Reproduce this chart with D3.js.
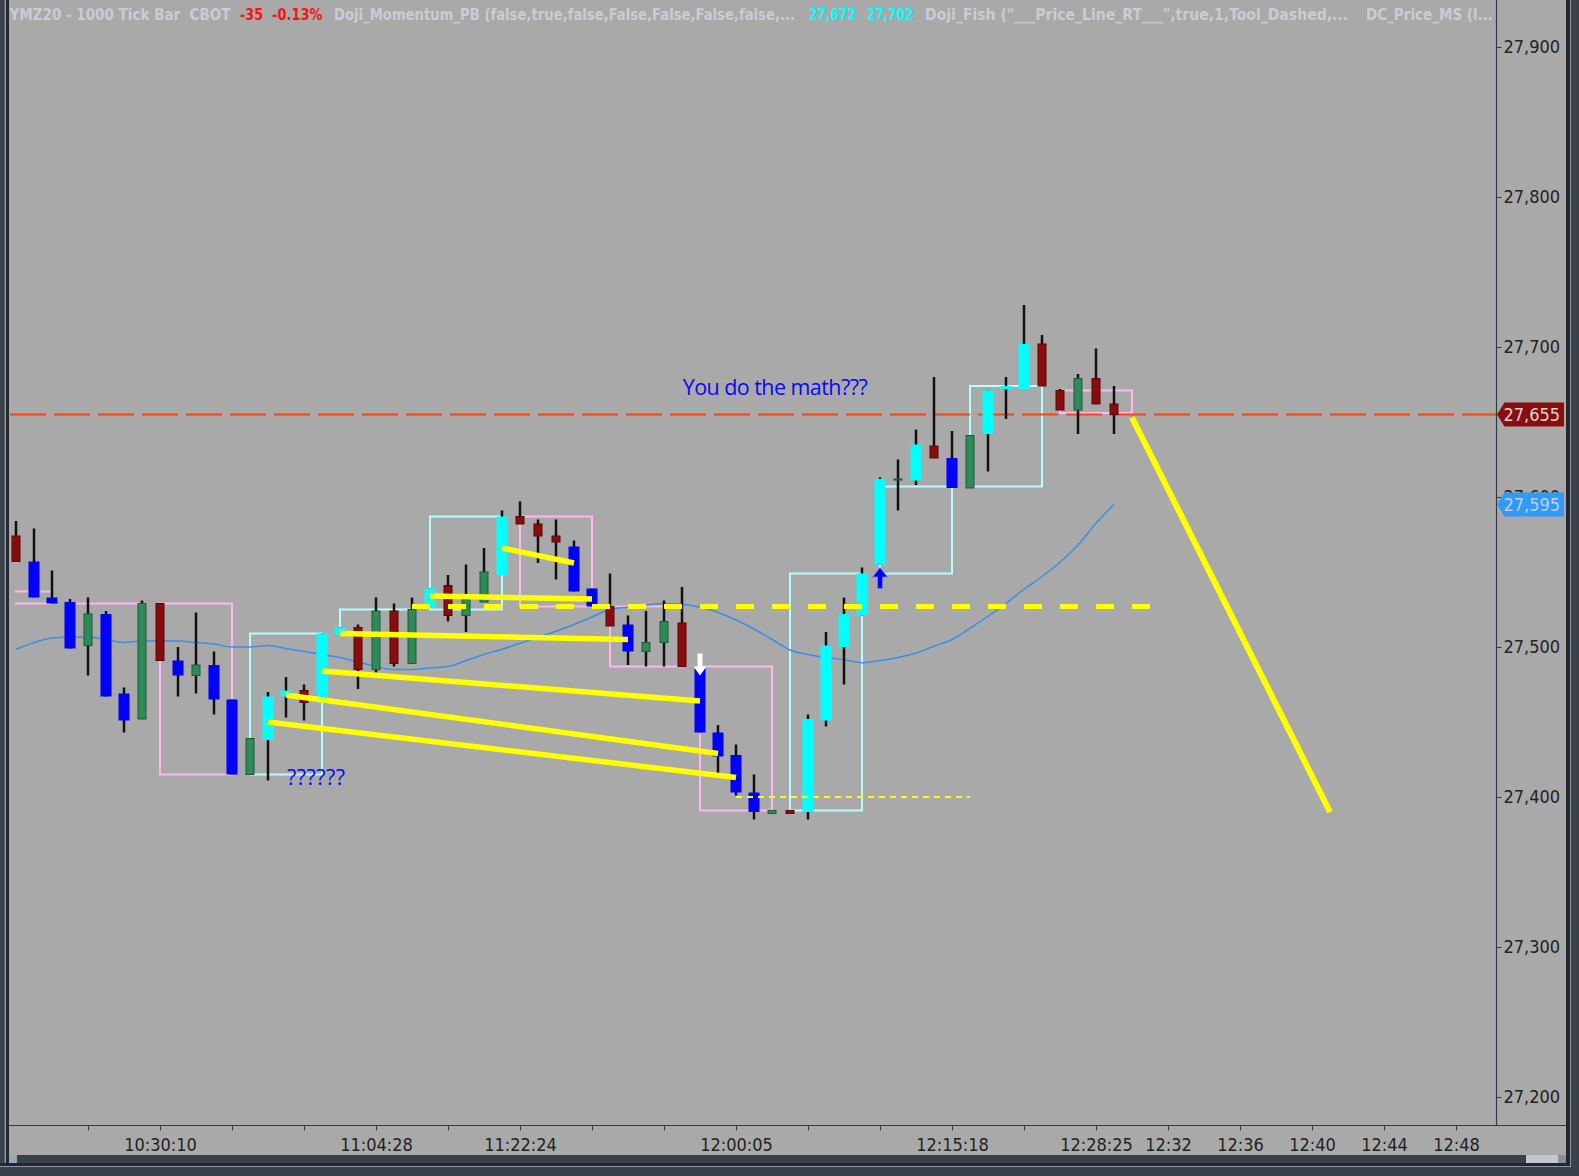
<!DOCTYPE html>
<html>
<head>
<meta charset="utf-8">
<script src="https://cdn.jsdelivr.net/npm/d3@7/dist/d3.min.js"></script>
<style>
    html, body { margin: 0; padding: 0; background: #3b414a; }
    svg { display: block; }
    .axis text { font-family: 'DejaVu Sans Condensed', 'DejaVu Sans', sans-serif; font-stretch: condensed; }
</style>
</head>
<body>
<div id="chart"></div>
<script>
// one entry per bar: r = down, b = strong down, g = up, c = strong up
const barTypes = ['r','b','b','b','g','b','b','g','r','b','g','b','b','g','c','c','r','c','c','r',
    'g','r','g','c','r','g','g','c','r','r','r','b','b','r','b','g','g','r','b','b',
    'b','b','g','r','c','c','c','c','c','g','c','r','b','g','c','c','c','r','r','g',
    'r','r'];
const opens = [27574,27557,27533,27530,27501,27522,27469,27452,27529,27491,27481,27488,27465,27415,27438,27467,27471,27463,27508,27513,
    27485,27524,27489,27526,27541,27521,27530,27548,27587,27582,27574,27567,27539,27527,27515,27497,27503,27516,27486,27443,
    27428,27403,27389,27391,27390,27451,27500,27521,27555,27612,27611,27634,27626,27606,27642,27672,27672,27702,27671,27658,
    27679,27662];
const highs = [27584,27579,27551,27532,27533,27524,27473,27531,27529,27500,27523,27497,27465,27439,27470,27480,27475,27509,27513,27515,
    27533,27529,27533,27539,27548,27555,27566,27591,27597,27585,27585,27571,27539,27549,27521,27524,27531,27540,27487,27448,
    27435,27415,27391,27391,27455,27510,27533,27553,27613,27625,27645,27680,27644,27641,27671,27680,27728,27708,27672,27682,
    27699,27674];
const lows = [27557,27533,27529,27499,27481,27467,27443,27452,27491,27467,27469,27455,27415,27415,27411,27453,27451,27463,27508,27472,
    27483,27487,27489,27526,27517,27510,27530,27548,27582,27556,27545,27537,27527,27514,27488,27487,27487,27487,27443,27413,
    27401,27385,27389,27389,27385,27447,27475,27521,27555,27591,27608,27626,27606,27606,27617,27652,27672,27674,27658,27642,
    27662,27642];
const closes = [27557,27533,27529,27499,27522,27467,27451,27529,27491,27481,27488,27465,27415,27439,27467,27471,27463,27509,27513,27485,
    27524,27489,27525,27539,27521,27532,27550,27587,27582,27574,27570,27537,27527,27514,27497,27503,27517,27487,27443,27427,
    27403,27390,27391,27389,27452,27501,27522,27549,27612,27612,27635,27626,27606,27641,27671,27674,27702,27674,27658,27679,
    27662,27655];

// moving average, one value per bar
const maValues = [27498.5,27503,27506,27506.5,27506.5,27505,27503,27504,27504,27504,27503,27502,27500,27500,27501,27499,27497,27495,27493,27490,
    27487,27485,27485,27486,27487,27491,27495,27498.5,27502.5,27506.5,27510.5,27515,27520,27525,27526.5,27528,27529,27528.5,27526.5,27523,
    27518,27512,27505,27498,27495,27493,27491.5,27489.5,27491,27493,27496,27500.5,27505,27512.5,27520.5,27529,27538.5,27547,27556.5,27568,
    27582.5,27595];

// 5 bar boxes: first bar, price at start, price at end
const boxStart = [-2, 3, 8, 13, 18, 23, 28, 33, 38, 43, 48, 53, 58];
const boxFrom = [27537, 27529, 27529, 27415, 27509, 27525, 27587, 27527, 27487, 27391, 27549, 27607, 27671];
const boxTo = [27529, 27529, 27415, 27509, 27525, 27587, 27527, 27487, 27391, 27549, 27607, 27674, 27656];

// hand drawn yellow lines: [bar, price, bar, price]
const trendLines = [
    [27, 27566, 31, 27556],
    [23, 27534, 32, 27532],
    [18, 27509, 34, 27505],
    [17, 27484, 38, 27464],
    [15, 27468, 39, 27429],
    [14, 27450, 40, 27413],
    [62, 27653, 73, 27390]
];
const thickDash = [22, 63, 27527];
const thinDash = [40, 53, 27400];

// markers: bar, tip price, direction
const arrowIdx = [38, 48];
const arrowPrice = [27481, 27553];
const arrowDir = ['down', 'up'];

const notes = ['You do the math???', '??????'];
const noteIdx = [37.04, 15.06];
const notePrice = [27668, 27408];

const xTickIdx = [4,8,12,16,20,24,28,32,36,40,44,48,52,56,60,64,68,72,76,80];
const xLabelIdx = [8, 20, 28, 40, 52, 60, 64, 68, 72, 76, 80];
const xLabelText = ['10:30:10','11:04:28','11:22:24','12:00:05','12:15:18','12:28:25','12:32','12:36','12:40','12:44','12:48'];
const yTicks = [27200, 27300, 27400, 27500, 27600, 27700, 27800, 27900];

const maLast = 27595;

const headerTexts = ['YMZ20 - 1000 Tick Bar  CBOT', '-35', '-0.13%',
    'Doji_Momentum_PB (false,true,false,False,False,False,false,...',
    '27,672', '27,702',
    'Doji_Fish ("___Price_Line_RT___",true,1,Tool_Dashed,...',
    'DC_Price_MS (l...'];

function tickChart(options) {
    let {
        parentId = 'chart',
        width = 1579,
        height = 1176,
        plotLeft = 10,
        plotRight = 1496.5,
        plotTop = 0,
        plotBottom = 1125,
        background = '#a9a9a9',
        frame = '#3b414a'
    } = options;

    const font = "'DejaVu Sans Condensed', 'DejaVu Sans', sans-serif";

    const svg = d3.select('#' + parentId).append('svg')
        .attr('width', width)
        .attr('height', height);

    // frame
    svg.append('rect').attr('width', width).attr('height', height).attr('fill', frame);
    svg.append('rect').attr('x', 9).attr('y', 0).attr('width', 1557).attr('height', 1155).attr('fill', background);
    svg.append('rect').attr('x', 4.7).attr('y', 0).attr('width', 1.3).attr('height', 1166).attr('fill', '#98a0ab');
    svg.append('rect').attr('x', 6).attr('y', 0).attr('width', 3).attr('height', 1166).attr('fill', '#23272e');
    svg.append('rect').attr('x', 1566).attr('y', 0).attr('width', 4).attr('height', 1166).attr('fill', '#23272e');
    svg.append('rect').attr('x', 1570).attr('y', 0).attr('width', 1).attr('height', 1167).attr('fill', '#8a94a3');
    svg.append('rect').attr('x', 9).attr('y', 1155).attr('width', 1557).attr('height', 8).attr('fill', '#3b414a');
    svg.append('rect').attr('x', 9).attr('y', 1155).attr('width', 8).attr('height', 8).attr('fill', '#9aa4b4');
    svg.append('rect').attr('x', 1526).attr('y', 1155).attr('width', 32).attr('height', 8).attr('fill', '#c3c7cf');
    svg.append('rect').attr('x', 1558).attr('y', 1155).attr('width', 8).attr('height', 8).attr('fill', '#8391a3');
    svg.append('rect').attr('x', 0).attr('y', 1163).attr('width', 1570).attr('height', 3).attr('fill', '#23272e');
    svg.append('rect').attr('x', 0).attr('y', 1166).attr('width', 1571).attr('height', 1).attr('fill', '#8a94a3');

    const x = d3.scaleLinear().domain([-1 / 3, 82.25]).range([plotLeft, plotRight]);
    const y = d3.scaleLinear().domain([27181.33, 27931.33]).range([plotBottom, plotTop]);

    const defs = svg.append('defs');
    defs.append('clipPath').attr('id', 'plot-clip').append('rect')
        .attr('x', plotLeft).attr('y', plotTop)
        .attr('width', plotRight - plotLeft).attr('height', plotBottom - plotTop);
    defs.append('clipPath').attr('id', 'box-clip').append('rect')
        .attr('x', x(0) - 1).attr('y', plotTop)
        .attr('width', plotRight - x(0)).attr('height', plotBottom - plotTop);

    const plot = svg.append('g').attr('clip-path', 'url(#plot-clip)');

    // boxes
    const boxes = boxStart.map((s, k) => ({s, a: boxFrom[k], b: boxTo[k]}));
    plot.append('g').attr('clip-path', 'url(#box-clip)')
        .selectAll('path').data(boxes).enter().append('path')
        .attr('d', d => {
            const x0 = x(d.s), x1 = x(d.s + 4);
            return 'M' + x0 + ',' + y(d.a) + 'H' + x1 + 'V' + y(d.b) + 'H' + x0 + 'Z';
        })
        .attr('fill', 'none')
        .attr('stroke', d => d.b > d.a ? '#b4ffff' : '#ffb6f0')
        .attr('stroke-width', 2);

    // moving average
    plot.append('path')
        .datum(maValues)
        .attr('d', d3.line().x((d, i) => x(i)).y(d => y(d)).curve(d3.curveMonotoneX))
        .attr('fill', 'none')
        .attr('stroke', '#3a8fe8')
        .attr('stroke-width', 1.5);

    // last price line
    const lastPrice = closes[closes.length - 1];
    plot.append('line')
        .attr('x1', plotLeft).attr('x2', plotRight)
        .attr('y1', y(lastPrice)).attr('y2', y(lastPrice))
        .attr('stroke', '#ff4500')
        .attr('stroke-width', 2)
        .attr('stroke-dasharray', '36,8');

    // candles
    const bodyW = {r: 8, g: 8, b: 11, c: 11};
    const fills = {r: '#8b0c0c', g: '#2e8b57', b: '#0000ff', c: '#00ffff'};
    const strokes = {r: '#5a0808', g: '#1d5a38', b: 'none', c: 'none'};
    const bars = opens.map((o, i) => ({i, t: barTypes[i], o, h: highs[i], l: lows[i], c: closes[i]}));

    const barGroup = plot.append('g').attr('class', 'bars');
    barGroup.selectAll('line').data(bars).enter().append('line')
        .attr('x1', d => x(d.i)).attr('x2', d => x(d.i))
        .attr('y1', d => y(d.h)).attr('y2', d => y(d.l))
        .attr('stroke', '#111')
        .attr('stroke-width', 2.5);
    barGroup.selectAll('rect').data(bars).enter().append('rect')
        .attr('x', d => x(d.i) - bodyW[d.t] / 2)
        .attr('width', d => bodyW[d.t])
        .attr('y', d => y(Math.max(d.o, d.c)))
        .attr('height', d => Math.max(1, Math.abs(y(d.o) - y(d.c))))
        .attr('fill', d => fills[d.t])
        .attr('stroke', d => strokes[d.t])
        .attr('stroke-width', 1);

    // yellow drawings
    plot.append('line')
        .attr('x1', x(thinDash[0])).attr('x2', x(thinDash[1]))
        .attr('y1', y(thinDash[2])).attr('y2', y(thinDash[2]))
        .attr('stroke', '#ffff00').attr('stroke-width', 2).attr('stroke-dasharray', '6,5');
    plot.append('line')
        .attr('x1', x(thickDash[0])).attr('x2', x(thickDash[1]))
        .attr('y1', y(thickDash[2])).attr('y2', y(thickDash[2]))
        .attr('stroke', '#ffff00').attr('stroke-width', 5).attr('stroke-dasharray', '18,18');
    plot.selectAll('line.trend').data(trendLines).enter().append('line')
        .attr('class', 'trend')
        .attr('x1', d => x(d[0])).attr('y1', d => y(d[1]))
        .attr('x2', d => x(d[2])).attr('y2', d => y(d[3]))
        .attr('stroke', '#ffff00')
        .attr('stroke-width', (d, k) => k === trendLines.length - 1 ? 6 : 5.5);

    // arrows
    arrowIdx.forEach((ai, k) => {
        const cx = x(ai), ty = y(arrowPrice[k]);
        let d;
        if (arrowDir[k] === 'down') {
            d = 'M' + cx + ',' + ty + 'l-6.5,-9h4v-13h5v13h4z';
            plot.append('path').attr('d', d).attr('fill', '#ffffff');
        } else {
            d = 'M' + cx + ',' + ty + 'l7.5,9.5h-5v11.5h-5v-11.5h-5z';
            plot.append('path').attr('d', d).attr('fill', '#0000ff').attr('stroke', '#6a8cff').attr('stroke-width', 0.8);
        }
    });

    // text notes
    plot.selectAll('text.note').data(notes).enter().append('text')
        .attr('class', 'note')
        .attr('x', (d, k) => x(noteIdx[k]))
        .attr('y', (d, k) => y(notePrice[k]))
        .attr('textLength', (d, k) => k === 0 ? 185 : 58)
        .attr('lengthAdjust', 'spacing')
        .style('font-family', "'Open Sans', 'Noto Sans', sans-serif")
        .style('font-size', '21.5px')
        .attr('fill', '#0a0af0')
        .text(d => d);

    // axes
    svg.append('line').attr('x1', 9).attr('x2', 1566).attr('y1', plotBottom + 0.5).attr('y2', plotBottom + 0.5)
        .attr('stroke', '#343a44').attr('stroke-width', 1.2);
    svg.append('line').attr('x1', plotRight).attr('x2', plotRight).attr('y1', 0).attr('y2', plotBottom)
        .attr('stroke', '#343a44').attr('stroke-width', 1.2);

    const xAxis = d3.axisBottom(x)
        .tickValues(xTickIdx)
        .tickSize(5)
        .tickPadding(8)
        .tickFormat(v => {
            const k = xLabelIdx.indexOf(v);
            return k < 0 ? '' : xLabelText[k];
        });
    const xAxisGroup = svg.append('g').attr('class', 'axis')
        .attr('transform', 'translate(0,' + (plotBottom + 0.5) + ')')
        .call(xAxis);

    const yAxis = d3.axisRight(y)
        .tickValues(yTicks)
        .tickSize(5)
        .tickPadding(2)
        .tickFormat(d3.format(','));
    const yAxisGroup = svg.append('g').attr('class', 'axis')
        .attr('transform', 'translate(' + plotRight + ',0)')
        .call(yAxis);

    [xAxisGroup, yAxisGroup].forEach(g => {
        g.select('.domain').remove();
        g.selectAll('line').attr('stroke', '#343a44');
        g.selectAll('text').attr('fill', '#222').style('font-size', '18px');
    });

    // price tags (the 27,600 label sits behind the MA tag, as in the platform)
    function _priceTag(value, fill, textFill) {
        const cy = y(value);
        svg.append('path')
            .attr('d', 'M' + (plotRight + 0.5) + ',' + cy + 'L' + (plotRight + 8) + ',' + (cy - 12) +
                'H1564V' + (cy + 12) + 'H' + (plotRight + 8) + 'Z')
            .attr('fill', fill);
        svg.append('text')
            .attr('x', plotRight + 7)
            .attr('y', cy)
            .attr('dy', '0.36em')
            .attr('fill', textFill)
            .style('font-family', font)
            .style('font-stretch', 'condensed')
            .style('font-size', '18px')
            .text(d3.format(',')(value));
    }
    _priceTag(maLast, '#2f9af8', '#c6cfdc');
    _priceTag(lastPrice, '#8b0e0e', '#dcd4d4');

    // header line
    const headerX = [9.5, 240, 272, 334, 809, 867, 925, 1366];
    const headerW = [221, 23, 50.5, 461, 47, 46.5, 423, 127];
    const headerFill = ['#c9ccd6', '#ff1010', '#ff1010', '#c9ccd6', '#00ffff', '#00ffff', '#c9ccd6', '#c9ccd6'];
    svg.append('g').selectAll('text').data(headerTexts).enter().append('text')
        .attr('x', (d, k) => headerX[k])
        .attr('y', 19.5)
        .attr('textLength', (d, k) => headerW[k])
        .attr('lengthAdjust', 'spacingAndGlyphs')
        .attr('fill', (d, k) => headerFill[k])
        .style('font-family', "'Liberation Sans Narrow', 'DejaVu Sans Condensed', sans-serif")
        .style('font-weight', 'bold')
        .style('font-size', '15px')
        .style('white-space', 'pre')
        .text(d => d);

    return {chart: svg};
}

tickChart({parentId: 'chart'});
</script>
</body>
</html>
